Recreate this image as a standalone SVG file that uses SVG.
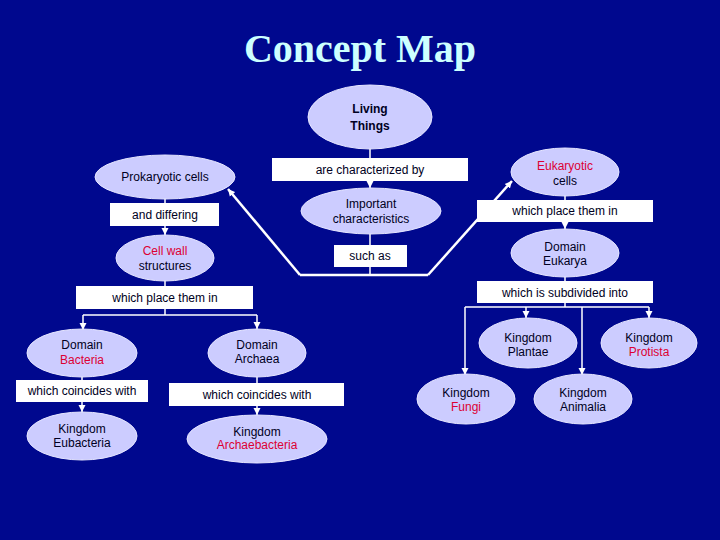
<svg xmlns="http://www.w3.org/2000/svg" width="720" height="540" viewBox="0 0 720 540">
<defs>
<marker id="arr" markerUnits="userSpaceOnUse" markerWidth="8" markerHeight="8" refX="7" refY="4" orient="auto">
<path d="M0,0.5 L7,4 L0,7.5 Z" fill="#ffffff"/>
</marker>
<style>
.n{fill:#ccccff;stroke:#e6e6ff;stroke-width:1}
.b{fill:#ffffff;stroke:none}
.t{font-family:"Liberation Sans",Arial,sans-serif;font-size:12px;fill:#000022;text-anchor:middle}
.r{fill:#dd0033}
.c{stroke:#ffffff;stroke-width:1.5;fill:none}
.d{stroke:#ffffff;stroke-width:2.5;fill:none}
.a{marker-end:url(#arr)}
</style>
</defs>
<rect width="720" height="540" fill="#00088e"/>
<text x="360" y="62" text-anchor="middle" font-family="'Liberation Serif','Times New Roman',serif" font-weight="bold" font-size="40" fill="#ccffff">Concept Map</text>

<g id="connectors">
<line class="c" x1="370" y1="149" x2="370" y2="158"/>
<line class="c a" x1="370" y1="181" x2="370" y2="188"/>
<line class="c" x1="370" y1="234" x2="370" y2="275"/>
<polyline class="d" points="300,275 428,275"/>
<line class="d a" x1="300" y1="275" x2="228" y2="189"/>
<line class="d a" x1="428" y1="275" x2="512" y2="181"/>
<line class="c" x1="165" y1="199" x2="165" y2="203"/>
<line class="c a" x1="165" y1="226" x2="165" y2="235"/>
<line class="c" x1="165" y1="281" x2="165" y2="286"/>
<line class="c" x1="165" y1="309" x2="165" y2="315"/>
<polyline class="c" points="83,315 257,315"/>
<line class="c a" x1="83" y1="315" x2="83" y2="330"/>
<line class="c a" x1="257" y1="315" x2="257" y2="329"/>
<line class="c" x1="82" y1="377" x2="82" y2="380"/>
<line class="c a" x1="82" y1="402" x2="82" y2="412"/>
<line class="c" x1="257" y1="377" x2="257" y2="383"/>
<line class="c a" x1="257" y1="406" x2="257" y2="415"/>
<line class="c" x1="565" y1="196" x2="565" y2="200"/>
<line class="c a" x1="565" y1="222" x2="565" y2="229"/>
<line class="c" x1="565" y1="277" x2="565" y2="281"/>
<line class="c" x1="565" y1="303" x2="565" y2="307"/>
<polyline class="c" points="465,307 649,307"/>
<line class="c a" x1="465" y1="307" x2="465" y2="375"/>
<line class="c a" x1="526" y1="307" x2="526" y2="318"/>
<line class="c a" x1="582" y1="307" x2="582" y2="375"/>
<line class="c a" x1="649" y1="307" x2="649" y2="318"/>
</g>

<g id="living">
<ellipse class="n" cx="370" cy="117" rx="62" ry="32"/>
<text class="t" x="370" y="113" font-weight="bold" font-size="13">Living</text>
<text class="t" x="370" y="130" font-weight="bold" font-size="13">Things</text>
</g>
<g id="lbl-characterized">
<rect class="b" x="272" y="158" width="196" height="23"/>
<text class="t" x="370" y="174">are characterized by</text>
</g>
<g id="important">
<ellipse class="n" cx="371" cy="211" rx="70" ry="23"/>
<text class="t" x="371" y="208">Important</text>
<text class="t" x="371" y="223">characteristics</text>
</g>
<g id="lbl-suchas">
<rect class="b" x="334" y="245" width="73" height="22"/>
<text class="t" x="370" y="260">such as</text>
</g>
<g id="prokaryotic">
<ellipse class="n" cx="165" cy="177" rx="70" ry="22"/>
<text class="t" x="165" y="181">Prokaryotic cells</text>
</g>
<g id="lbl-differing">
<rect class="b" x="110" y="203" width="109" height="23"/>
<text class="t" x="165" y="219">and differing</text>
</g>
<g id="cellwall">
<ellipse class="n" cx="165" cy="258" rx="49" ry="23"/>
<text class="t r" x="165" y="255">Cell wall</text>
<text class="t" x="165" y="270">structures</text>
</g>
<g id="lbl-place-left">
<rect class="b" x="76" y="286" width="177" height="23"/>
<text class="t" x="165" y="302">which place them in</text>
</g>
<g id="bacteria">
<ellipse class="n" cx="82" cy="353" rx="55" ry="24"/>
<text class="t" x="82" y="349">Domain</text>
<text class="t r" x="82" y="364">Bacteria</text>
</g>
<g id="archaea">
<ellipse class="n" cx="257" cy="353" rx="49" ry="24"/>
<text class="t" x="257" y="349">Domain</text>
<text class="t" x="257" y="363">Archaea</text>
</g>
<g id="lbl-coincides-left">
<rect class="b" x="16" y="380" width="132" height="22"/>
<text class="t" x="82" y="395">which coincides with</text>
</g>
<g id="lbl-coincides-right">
<rect class="b" x="169" y="383" width="175" height="23"/>
<text class="t" x="257" y="399">which coincides with</text>
</g>
<g id="eubacteria">
<ellipse class="n" cx="82" cy="436" rx="55" ry="24"/>
<text class="t" x="82" y="433">Kingdom</text>
<text class="t" x="82" y="447">Eubacteria</text>
</g>
<g id="archaebacteria">
<ellipse class="n" cx="257" cy="439" rx="70" ry="24"/>
<text class="t" x="257" y="436">Kingdom</text>
<text class="t r" x="257" y="449">Archaebacteria</text>
</g>
<g id="eukaryotic">
<ellipse class="n" cx="565" cy="172" rx="54" ry="24"/>
<text class="t r" x="565" y="170">Eukaryotic</text>
<text class="t" x="565" y="185">cells</text>
</g>
<g id="lbl-place-right">
<rect class="b" x="477" y="200" width="176" height="22"/>
<text class="t" x="565" y="215">which place them in</text>
</g>
<g id="eukarya">
<ellipse class="n" cx="565" cy="253" rx="54" ry="24"/>
<text class="t" x="565" y="251">Domain</text>
<text class="t" x="565" y="265">Eukarya</text>
</g>
<g id="lbl-subdivided">
<rect class="b" x="477" y="281" width="176" height="22"/>
<text class="t" x="565" y="297">which is subdivided into</text>
</g>
<g id="plantae">
<ellipse class="n" cx="528" cy="343" rx="49" ry="25"/>
<text class="t" x="528" y="342">Kingdom</text>
<text class="t" x="528" y="356">Plantae</text>
</g>
<g id="protista">
<ellipse class="n" cx="649" cy="343" rx="48" ry="25"/>
<text class="t" x="649" y="342">Kingdom</text>
<text class="t r" x="649" y="356">Protista</text>
</g>
<g id="fungi">
<ellipse class="n" cx="466" cy="399" rx="49" ry="25"/>
<text class="t" x="466" y="397">Kingdom</text>
<text class="t r" x="466" y="411">Fungi</text>
</g>
<g id="animalia">
<ellipse class="n" cx="583" cy="399" rx="49" ry="25"/>
<text class="t" x="583" y="397">Kingdom</text>
<text class="t" x="583" y="411">Animalia</text>
</g>
</svg>
